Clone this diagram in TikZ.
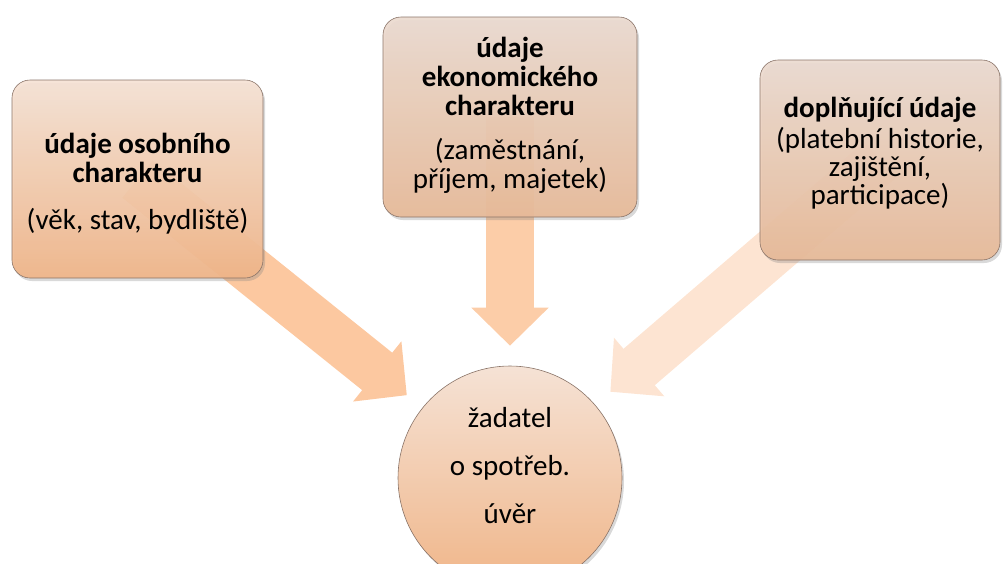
\documentclass[tikz,border=0pt]{standalone}
\usepackage{fontspec}
\setmainfont{Carlito}
\usetikzlibrary{arrows.meta,shadows}

\definecolor{boxtop}{HTML}{F5E2D5}
\definecolor{boxbottom}{HTML}{F0B588}
\definecolor{greytop}{HTML}{EBDAD0}
\definecolor{greybottom}{HTML}{E8BA98}
\definecolor{boxline}{HTML}{8A7468}
\definecolor{arrowdark}{HTML}{FCC8A0}
\definecolor{arrowmid}{HTML}{FCCDA8}
\definecolor{arrowpale}{HTML}{FDE4D2}

\pgfdeclarelayer{background}
\pgfsetlayers{background,main}

\begin{document}
\begin{tikzpicture}[x=1pt,y=-1pt,
  databox/.style={rectangle,rounded corners=18pt,draw=boxline,line width=0.6pt,
    top color=boxtop,bottom color=boxbottom,fill opacity=0.93,text opacity=1,
    align=center,inner sep=0pt,font=\fontsize{29}{29}\selectfont,
    drop shadow={opacity=0.3,shadow xshift=2pt,shadow yshift=-3pt}},
  bigarrow/.style={line width=48pt,-{Triangle[width=75pt,length=38pt]},shorten >=20pt}]
\useasboundingbox (0,0) rectangle (1003,563);

% the four parts
\node[databox,minimum width=251pt,minimum height=198pt] (personal) at (137.5,179)
  {\rule{0pt}{29pt}\textbf{údaje osobního}\\ \textbf{charakteru}\\[18pt] (věk, stav, bydliště)};
\node[databox,minimum width=254pt,minimum height=200pt,top color=greytop,bottom color=greybottom] (economic) at (510,117)
  {\textbf{údaje}\\ \textbf{ekonomického}\\ \textbf{charakteru}\\[15pt] (zaměstnání,\\ příjem, majetek)\rule[-8pt]{0pt}{8pt}};
\node[databox,minimum width=240pt,minimum height=200pt,top color=greytop,bottom color=greybottom] (extra) at (880,160)
  {\textbf{doplňující údaje}\\[2pt] (platební historie,\\[-1pt] zajištění,\\[-1pt] participace)\rule[-18pt]{0pt}{18pt}};
\node[circle,draw=boxline,line width=0.6pt,top color=boxtop,bottom color=boxbottom,minimum size=224pt,
  drop shadow={opacity=0.3,shadow xshift=2pt,shadow yshift=-3pt}] (applicant) at (510,478) {};
\node[align=center,font=\fontsize{29}{29}\selectfont] (applicanttext) at ([yshift=12pt]applicant.center)
  {žadatel\\[19pt] o spotřeb.\\[19pt] úvěr};

% arrows behind the boxes
\begin{pgfonlayer}{background}
  \draw[bigarrow,arrowdark] (personal.center) -- (applicant);
  \draw[bigarrow,arrowmid] (economic.center) -- (applicant);
  \draw[bigarrow,arrowpale] (extra.center) -- (applicant);
\end{pgfonlayer}
\end{tikzpicture}
\end{document}
